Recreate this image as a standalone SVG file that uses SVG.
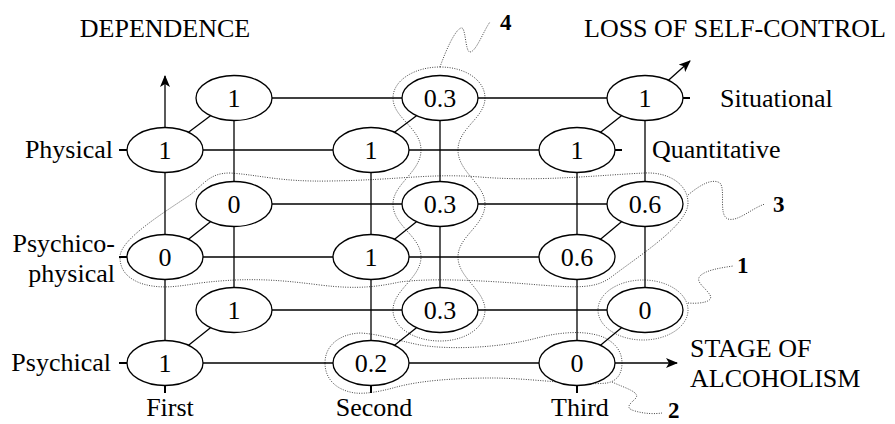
<svg xmlns="http://www.w3.org/2000/svg" width="895" height="424" viewBox="0 0 895 424">
<style>
.t{font-family:"Liberation Serif","Times New Roman",serif;font-size:26px;fill:#000}
.n{font-family:"Liberation Serif","Times New Roman",serif;font-size:26px;fill:#000;text-anchor:middle}
.b{font-family:"Liberation Serif","Times New Roman",serif;font-size:23px;font-weight:bold;fill:#000}
.ln{stroke:#000;stroke-width:1.3;fill:none}
.tk{stroke:#000;stroke-width:2;fill:none}
.nd{fill:#fff;stroke:#000;stroke-width:1.3}
.dt{fill:none;stroke:#444;stroke-width:1;stroke-dasharray:1 1.4}
</style>
<defs>
<marker id="ah" viewBox="0 0 12 10" refX="11" refY="5" markerWidth="12" markerHeight="10" markerUnits="userSpaceOnUse" orient="auto">
<path d="M0,0 L12,5 L0,10 L3,5 Z" fill="#000"/>
</marker>
</defs>
<rect width="895" height="424" fill="#fff"/>

<g id="groups">
<path id="g4" class="dt" d="M440,67 C465,67 485,80 485,98 C485,118 458,128 458,150 C458,172 485,184 485,204 C485,226 458,236 458,257 C458,278 485,290 485,310 C485,328 465,341 440,341 C415,341 393,328 393,310 C393,290 421,278 421,257 C421,236 393,226 393,204 C393,184 421,172 421,150 C421,128 393,118 393,98 C393,80 415,67 440,67 Z"/>
<path class="dt" d="M440,67 C446,50 455,30 461,28 C466,26 465,52 470,52 C476,52 484,30 490,22"/>
<path id="g3" class="dt" d="M120,257 C120,240 160,215 190,195 C205,183 210,173 230,173 C260,175 280,182 330,181 C400,180 430,173 480,177 C540,182 600,175 645,173 C670,172 688,185 688,203 C688,225 640,255 610,278 C595,288 580,288 540,285 C480,280 430,278 400,282 C380,286 360,290 320,285 C280,280 250,277 200,283 C180,286 160,290 140,283 C125,277 120,268 120,257 Z"/>
<path class="dt" d="M688,195 C700,185 712,178 720,183 C726,190 718,215 728,219 C738,222 752,208 765,204"/>
<ellipse id="g1" class="dt" cx="643" cy="310" rx="45" ry="30"/>
<path class="dt" d="M688,303 C700,304 714,302 710,295 C705,287 695,282 700,276 C706,270 720,268 733,266"/>
<path id="g2" class="dt" d="M325,363 C325,345 340,334 360,333 C380,334 395,340 420,345 C450,350 500,348 537,338 C560,332 585,330 603,337 C616,343 622,352 622,363 C622,374 617,381 607,383 C580,386 530,378 492,378 C460,378 420,380 393,388 C378,392 365,394 355,393 C335,390 325,378 325,363 Z"/>
<path class="dt" d="M612,382 C625,388 640,392 636,398 C630,404 624,408 635,411 C645,414 655,414 662,413"/>
</g>

<g id="connectors">
<line class="ln" x1="203" y1="150" x2="333" y2="150"/>
<line class="ln" x1="409" y1="150" x2="539" y2="150"/>
<line class="ln" x1="203" y1="257" x2="333" y2="257"/>
<line class="ln" x1="409" y1="257" x2="539" y2="257"/>
<line class="ln" x1="203" y1="363" x2="333" y2="363"/>
<line class="ln" x1="409" y1="363" x2="539" y2="363"/>
<line class="ln" x1="272" y1="98" x2="402" y2="98"/>
<line class="ln" x1="478" y1="98" x2="607" y2="98"/>
<line class="ln" x1="272" y1="204" x2="402" y2="204"/>
<line class="ln" x1="478" y1="204" x2="607" y2="204"/>
<line class="ln" x1="272" y1="310" x2="402" y2="310"/>
<line class="ln" x1="478" y1="310" x2="607" y2="310"/>
<line class="ln" x1="165" y1="172.5" x2="165" y2="234.5"/>
<line class="ln" x1="165" y1="279.5" x2="165" y2="340.5"/>
<line class="ln" x1="371" y1="172.5" x2="371" y2="234.5"/>
<line class="ln" x1="371" y1="279.5" x2="371" y2="340.5"/>
<line class="ln" x1="577" y1="172.5" x2="577" y2="234.5"/>
<line class="ln" x1="577" y1="279.5" x2="577" y2="340.5"/>
<line class="ln" x1="234" y1="120.5" x2="234" y2="181.5"/>
<line class="ln" x1="234" y1="226.5" x2="234" y2="287.5"/>
<line class="ln" x1="440" y1="120.5" x2="440" y2="181.5"/>
<line class="ln" x1="440" y1="226.5" x2="440" y2="287.5"/>
<line class="ln" x1="645" y1="120.5" x2="645" y2="181.5"/>
<line class="ln" x1="645" y1="226.5" x2="645" y2="287.5"/>
<line class="ln" x1="188.5" y1="132.3" x2="210.5" y2="115.7"/>
<line class="ln" x1="394.5" y1="132.3" x2="416.5" y2="115.7"/>
<line class="ln" x1="600.5" y1="132.3" x2="621.5" y2="115.7"/>
<line class="ln" x1="188.5" y1="239.3" x2="210.5" y2="221.7"/>
<line class="ln" x1="394.5" y1="239.3" x2="416.5" y2="221.7"/>
<line class="ln" x1="600.5" y1="239.3" x2="621.5" y2="221.7"/>
<line class="ln" x1="188.5" y1="345.3" x2="210.5" y2="327.7"/>
<line class="ln" x1="394.5" y1="345.3" x2="416.5" y2="327.7"/>
<line class="ln" x1="600.5" y1="345.3" x2="621.5" y2="327.7"/>
<line class="ln" x1="165" y1="127.5" x2="165" y2="76" marker-end="url(#ah)"/>
<line class="ln" x1="668.5" y1="80.3" x2="690" y2="61" marker-end="url(#ah)"/>
<line class="ln" x1="615" y1="363" x2="677" y2="363" marker-end="url(#ah)"/>
<line class="tk" x1="119" y1="150" x2="127" y2="150"/>
<line class="tk" x1="119" y1="257" x2="127" y2="257"/>
<line class="tk" x1="119" y1="363" x2="127" y2="363"/>
<line class="tk" x1="615" y1="150" x2="622" y2="150"/>
<line class="tk" x1="683" y1="98" x2="690" y2="98"/>
<line class="tk" x1="165" y1="385.5" x2="165" y2="393"/>
<line class="tk" x1="371" y1="385.5" x2="371" y2="393"/>
<line class="tk" x1="577" y1="385.5" x2="577" y2="393"/>
</g>

<g id="n_b_1_1"><ellipse class="nd" cx="234" cy="98" rx="38" ry="22.5"/><text class="n" x="234" y="107">1</text></g>
<g id="n_b_1_2"><ellipse class="nd" cx="440" cy="98" rx="38" ry="22.5"/><text class="n" x="440" y="107">0.3</text></g>
<g id="n_b_1_3"><ellipse class="nd" cx="645" cy="98" rx="38" ry="22.5"/><text class="n" x="645" y="107">1</text></g>
<g id="n_f_1_1"><ellipse class="nd" cx="165" cy="150" rx="38" ry="22.5"/><text class="n" x="165" y="159">1</text></g>
<g id="n_f_1_2"><ellipse class="nd" cx="371" cy="150" rx="38" ry="22.5"/><text class="n" x="371" y="159">1</text></g>
<g id="n_f_1_3"><ellipse class="nd" cx="577" cy="150" rx="38" ry="22.5"/><text class="n" x="577" y="159">1</text></g>
<g id="n_b_2_1"><ellipse class="nd" cx="234" cy="204" rx="38" ry="22.5"/><text class="n" x="234" y="213">0</text></g>
<g id="n_b_2_2"><ellipse class="nd" cx="440" cy="204" rx="38" ry="22.5"/><text class="n" x="440" y="213">0.3</text></g>
<g id="n_b_2_3"><ellipse class="nd" cx="645" cy="204" rx="38" ry="22.5"/><text class="n" x="645" y="213">0.6</text></g>
<g id="n_f_2_1"><ellipse class="nd" cx="165" cy="257" rx="38" ry="22.5"/><text class="n" x="165" y="266">0</text></g>
<g id="n_f_2_2"><ellipse class="nd" cx="371" cy="257" rx="38" ry="22.5"/><text class="n" x="371" y="266">1</text></g>
<g id="n_f_2_3"><ellipse class="nd" cx="577" cy="257" rx="38" ry="22.5"/><text class="n" x="577" y="266">0.6</text></g>
<g id="n_b_3_1"><ellipse class="nd" cx="234" cy="310" rx="38" ry="22.5"/><text class="n" x="234" y="319">1</text></g>
<g id="n_b_3_2"><ellipse class="nd" cx="440" cy="310" rx="38" ry="22.5"/><text class="n" x="440" y="319">0.3</text></g>
<g id="n_b_3_3"><ellipse class="nd" cx="645" cy="310" rx="38" ry="22.5"/><text class="n" x="645" y="319">0</text></g>
<g id="n_f_3_1"><ellipse class="nd" cx="165" cy="363" rx="38" ry="22.5"/><text class="n" x="165" y="372">1</text></g>
<g id="n_f_3_2"><ellipse class="nd" cx="371" cy="363" rx="38" ry="22.5"/><text class="n" x="371" y="372">0.2</text></g>
<g id="n_f_3_3"><ellipse class="nd" cx="577" cy="363" rx="38" ry="22.5"/><text class="n" x="577" y="372">0</text></g>

<g id="labels">
<text class="t" x="165" y="37" text-anchor="middle">DEPENDENCE</text>
<text class="t" x="584" y="37">LOSS OF SELF-CONTROL</text>
<text class="t" x="720" y="107">Situational</text>
<text class="t" x="652" y="158">Quantitative</text>
<text class="t" x="113" y="158" text-anchor="end">Physical</text>
<text class="t" x="115" y="252" text-anchor="end">Psychico-</text>
<text class="t" x="115" y="282" text-anchor="end">physical</text>
<text class="t" x="111" y="371" text-anchor="end">Psychical</text>
<text class="t" x="170" y="416" text-anchor="middle">First</text>
<text class="t" x="374" y="416" text-anchor="middle">Second</text>
<text class="t" x="580" y="416" text-anchor="middle">Third</text>
<text class="t" x="690" y="357">STAGE OF</text>
<text class="t" x="690" y="387">ALCOHOLISM</text>
<text class="b" x="500" y="30">4</text>
<text class="b" x="773" y="212">3</text>
<text class="b" x="737" y="273">1</text>
<text class="b" x="668" y="418">2</text>
</g>
</svg>
